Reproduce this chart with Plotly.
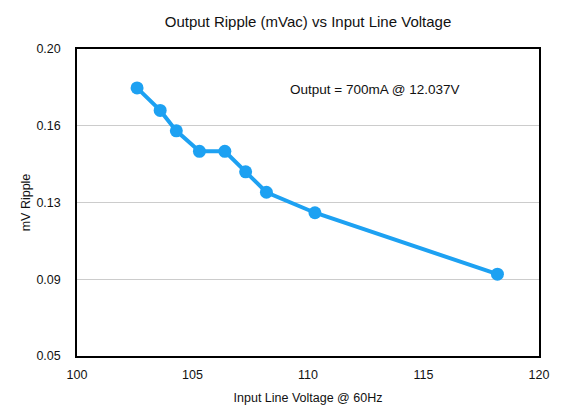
import plotly.graph_objects as go

voltage = [102.6, 103.6, 104.3, 105.3, 106.4, 107.3, 108.2, 110.3, 118.2]
ripple = [0.181, 0.170, 0.160, 0.150, 0.150, 0.140, 0.130, 0.120, 0.090]
y_tick_vals = [0.05, 0.0875, 0.125, 0.1625, 0.20]
y_tick_text = ["0.05", "0.09", "0.13", "0.16", "0.20"]
x_tick_vals = [100, 105, 110, 115, 120]

color = "#1DA1F2"
font = "Liberation Sans, Arial, Helvetica, sans-serif"

fig = go.Figure()
fig.add_trace(go.Scatter(
    x=voltage, y=ripple, mode="lines+markers",
    line=dict(color=color, width=4),
    marker=dict(color=color, size=13),
    showlegend=False, hoverinfo="x+y",
))

fig.add_annotation(
    x=112.9, y=0.18, xref="x", yref="y",
    text="Output = 700mA @ 12.037V", showarrow=False,
    font=dict(size=13.5, color="#111111", family=font),
)

fig.update_layout(
    width=583, height=418,
    margin=dict(l=77, r=44, t=49, b=62),
    paper_bgcolor="white", plot_bgcolor="white",
    font=dict(family=font, color="#111111", size=12),
    title=dict(text="Output Ripple (mVac) vs Input Line Voltage",
               x=0.5, xanchor="center", xref="paper",
               y=1 - 22 / 418, yanchor="middle",
               font=dict(size=15, family=font, color="#111111")),
)
fig.update_xaxes(
    range=[100, 120], tickvals=x_tick_vals, ticktext=[str(v) for v in x_tick_vals],
    showgrid=False, zeroline=False,
    showline=True, linecolor="black", linewidth=1.5, mirror=True,
    ticks="", ticklabelstandoff=6,
    title=dict(text="Input Line Voltage @ 60Hz", font=dict(size=12.5), standoff=12),
    tickfont=dict(size=12.5),
)
fig.update_yaxes(
    range=[0.05, 0.20], tickvals=y_tick_vals, ticktext=y_tick_text,
    showgrid=True, gridcolor="#CCCCCC", gridwidth=1, zeroline=False,
    showline=True, linecolor="black", linewidth=1.5, mirror=True,
    ticks="", ticklabelstandoff=12,
    title=dict(text="mV Ripple", font=dict(size=12.5), standoff=3),
    tickfont=dict(size=12.5),
)

fig.write_html("out.html")
